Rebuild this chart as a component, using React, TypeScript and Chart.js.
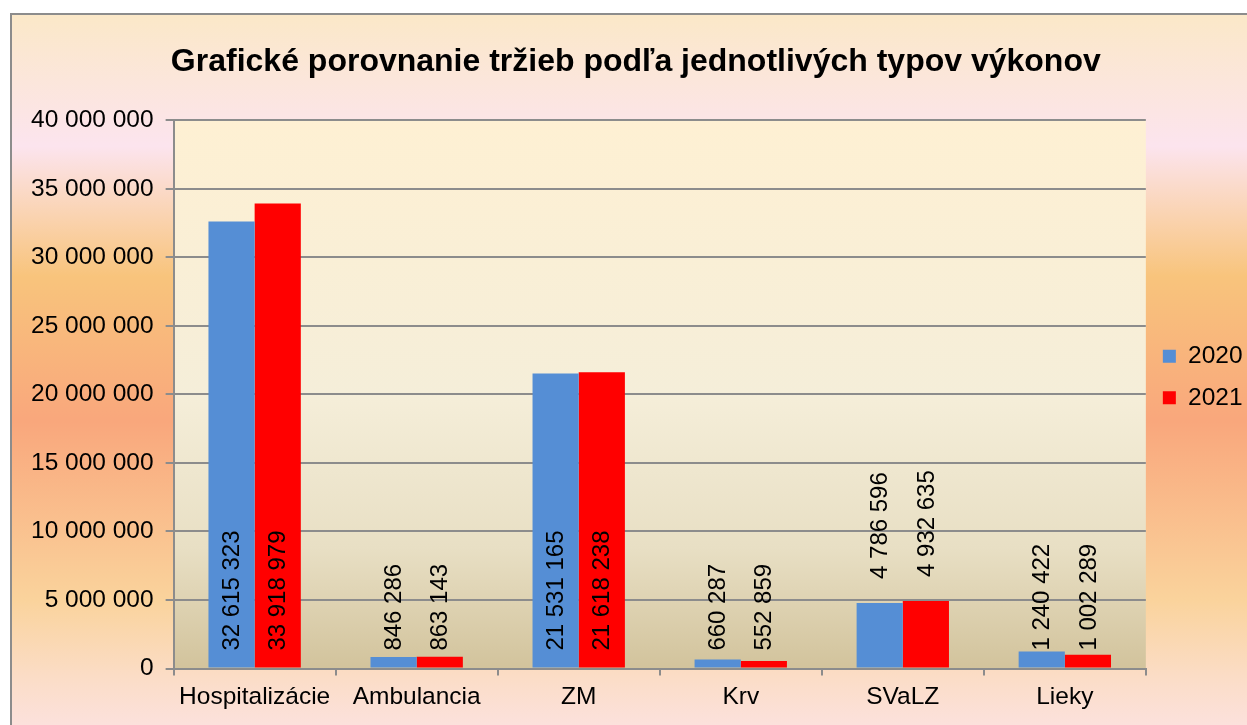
import { useEffect, useRef } from "react";
import { Chart, registerables } from "chart.js";

Chart.register(...registerables);

const chartTitle = "Grafické porovnanie tržieb podľa jednotlivých typov výkonov";
const categories = ["Hospitalizácie", "Ambulancia", "ZM", "Krv", "SVaLZ", "Lieky"];
const seriesNames = ["2020", "2021"];
const values2020 = [32615323, 846286, 21531165, 660287, 4786596, 1240422];
const values2021 = [33918979, 863143, 21618238, 552859, 4932635, 1002289];
const yTickValues = [0, 5000000, 10000000, 15000000, 20000000, 25000000, 30000000, 35000000, 40000000];

const FONT = "'Liberation Sans', Arial, sans-serif";
const GRID = "#8c8c8c";

const fmt = (v: number) => String(Math.round(v)).replace(/\B(?=(\d{3})+(?!\d))/g, " ");

const plotBackground = {
  id: "plotBackground",
  beforeDraw(chart: any) {
    const { ctx, chartArea } = chart;
    if (!chartArea) return;
    const { left, top, right, bottom } = chartArea;
    const g = ctx.createLinearGradient(0, top, 0, bottom);
    g.addColorStop(0, "#fef0d3");
    g.addColorStop(0.5, "#f5eed9");
    g.addColorStop(0.78, "#e8dfc4");
    g.addColorStop(1, "#d2c39c");
    ctx.save();
    ctx.fillStyle = g;
    ctx.fillRect(left, top, right - left, bottom - top);
    ctx.restore();
  },
};

const barValueLabels = {
  id: "barValueLabels",
  afterDatasetsDraw(chart: any) {
    const { ctx } = chart;
    ctx.save();
    ctx.font = `24px ${FONT}`;
    ctx.fillStyle = "#000";
    ctx.textBaseline = "middle";
    ctx.textAlign = "left";
    chart.data.datasets.forEach((ds: any, di: number) => {
      const meta = chart.getDatasetMeta(di);
      meta.data.forEach((bar: any, i: number) => {
        const v = ds.data[i];
        const text = fmt(v);
        const w = ctx.measureText(text).width;
        const h = bar.base - bar.y;
        let start: number;
        if (h >= w + 34) start = bar.base - 17;
        else if (h > 40) start = bar.y - 24;
        else start = bar.base - 17;
        ctx.save();
        ctx.translate(bar.x + 1, start);
        ctx.rotate(-Math.PI / 2);
        ctx.fillText(text, 0, 0);
        ctx.restore();
      });
    });
    ctx.restore();
  },
};

export default function App() {
  const ref = useRef<HTMLCanvasElement | null>(null);

  useEffect(() => {
    if (!ref.current) return;
    const chart = new Chart(ref.current, {
      type: "bar",
      data: {
        labels: categories,
        datasets: [
          {
            label: seriesNames[0],
            data: values2020,
            backgroundColor: "#558ed5",
            borderWidth: 0,
            barPercentage: 1,
            categoryPercentage: 0.57,
          },
          {
            label: seriesNames[1],
            data: values2021,
            backgroundColor: "#ff0000",
            borderWidth: 0,
            barPercentage: 1,
            categoryPercentage: 0.57,
          },
        ],
      },
      options: {
        responsive: false,
        animation: false,
        layout: { padding: { left: 7, right: -5.6, top: 20, bottom: 6 } },
        plugins: {
          title: {
            display: true,
            text: chartTitle,
            color: "#000",
            font: { family: FONT, size: 32, weight: "bold" },
            padding: { top: 8, bottom: 38.8 },
          },
          legend: {
            position: "right",
            labels: {
              color: "#000",
              boxWidth: 13,
              boxHeight: 13,
              padding: 17,
              font: { family: FONT, size: 24.5 },
            },
          },
          tooltip: { enabled: false },
        },
        scales: {
          x: {
            grid: {
              display: true,
              drawOnChartArea: false,
              offset: true,
              tickLength: 7,
              color: GRID,
              lineWidth: 2,
            },
            border: { display: true, color: GRID, width: 2 },
            ticks: { color: "#000", padding: 7, font: { family: FONT, size: 24.5 } },
          },
          y: {
            min: 0,
            max: 40000000,
            afterBuildTicks(scale: any) {
              scale.ticks = yTickValues.map((v) => ({ value: v }));
            },
            grid: { color: GRID, lineWidth: 2, tickLength: 8 },
            border: { display: true, color: GRID, width: 2 },
            ticks: {
              color: "#000",
              padding: 12,
              font: { family: FONT, size: 24.5 },
              callback: (v: any) => fmt(Number(v)),
            },
          },
        },
      },
      plugins: [plotBackground, barValueLabels],
    });
    return () => chart.destroy();
  }, []);

  return (
    <div
      style={{
        position: "fixed",
        left: 10,
        top: 13,
        width: 1237,
        height: 712,
        boxSizing: "border-box",
        borderLeft: "2px solid #8c8c8c",
        borderTop: "2px solid #8c8c8c",
        background:
          "linear-gradient(to bottom, #fbe8c8 0%, #fce4ee 18.5%, #fad3b0 28.4%, #f8c47c 36.8%, #f9a77c 57.2%, #fad39c 82.4%, #fbddc8 93.7%, #fce1dc 100%)",
        overflow: "hidden",
      }}
    >
      <canvas ref={ref} width={1235} height={710} style={{ display: "block" }} />
    </div>
  );
}
